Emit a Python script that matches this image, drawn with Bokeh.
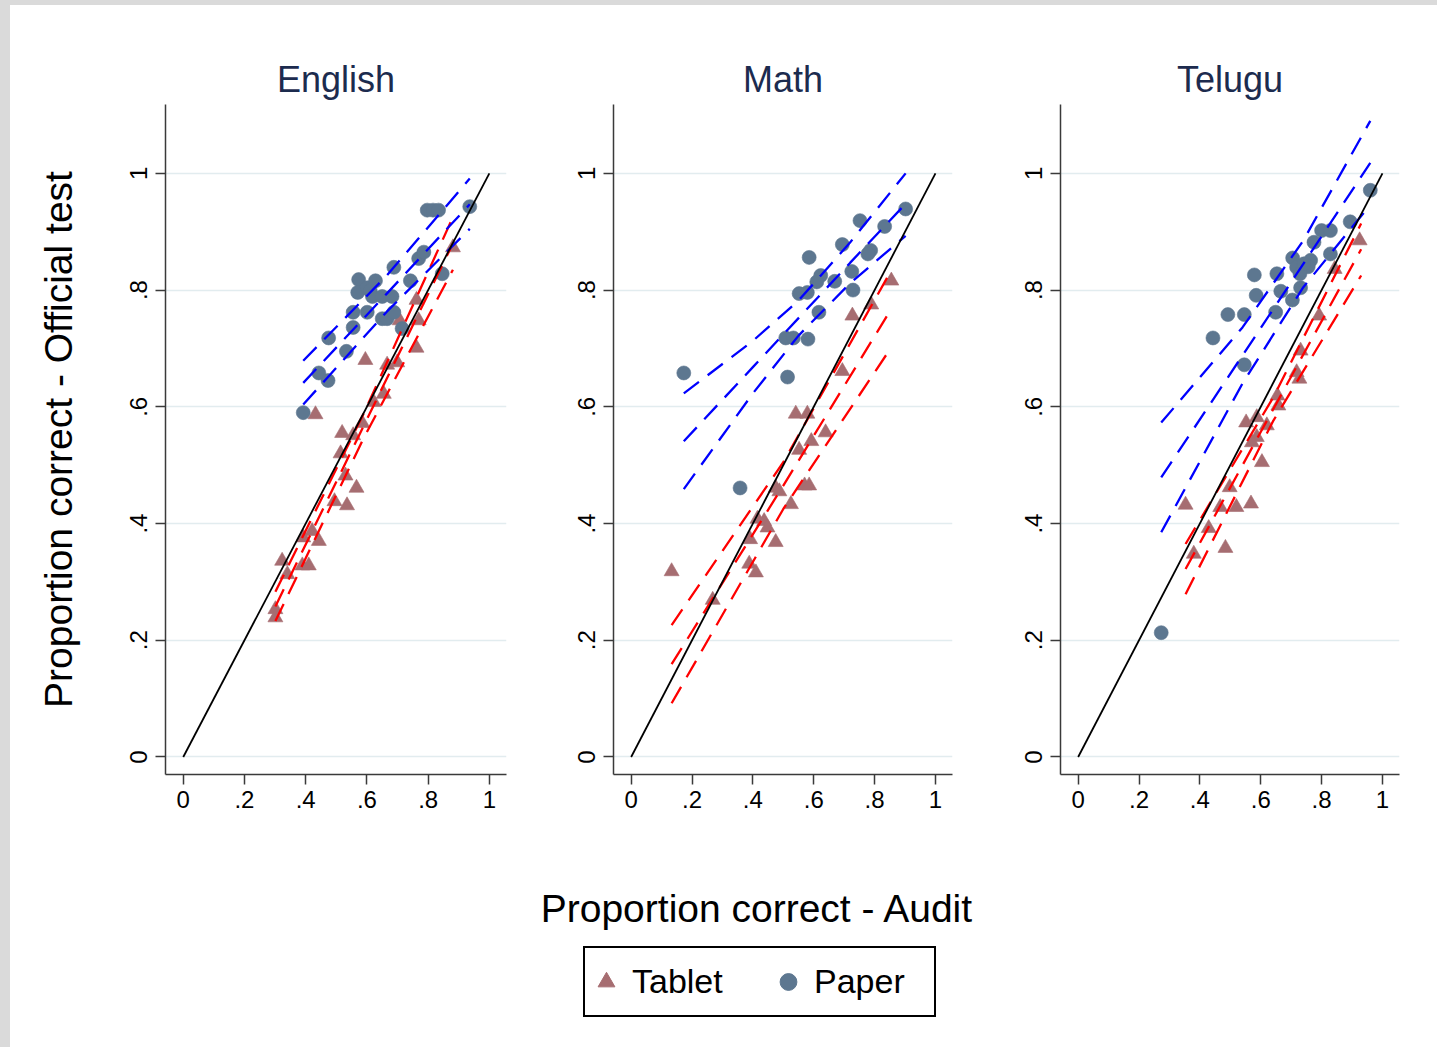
from bokeh.plotting import figure
from bokeh.models import (FixedTicker, Legend, LegendItem, Label, Range1d, Spacer)
from bokeh.layouts import row, column
from bokeh.embed import file_html
from bokeh.resources import INLINE

FONT = "Liberation Sans"
TAB_COLOR = "#a66d71"
PAP_COLOR = "#5d7790"

TICKS = [0, 0.2, 0.4, 0.6, 0.8, 1]
TICK_LABELS = ["0", ".2", ".4", ".6", ".8", "1"]
PANELS = ["English", "Math", "Telugu"]
SERIES = ["Tablet", "Paper"]

# ---------------- English ----------------
eng_tab_x = [.881, .762, .707, .769, .762, .595, .666, .699, .655, .622, .432, .519, .555, .514,
             .530, .566, .494, .535, .585, .392, .421, .443, .323, .340, .389, .410, .301, .301]
eng_tab_y = [.873, .783, .748, .748, .701, .680, .672, .676, .622, .608, .587, .555, .551, .520,
             .482, .461, .438, .431, .572, .376, .387, .370, .336, .313, .328, .328, .253, .239]
eng_pap_x = [.392, .443, .473, .475, .533, .555, .555, .601, .573, .570, .601, .611, .628, .618,
             .650, .666, .688, .650, .682, .715, .688, .742, .769, .786, .797, .816, .834, .846, .936]
eng_pap_y = [.590, .658, .645, .718, .695, .736, .762, .762, .818, .796, .804, .799, .816, .789,
             .751, .751, .762, .789, .789, .734, .839, .816, .854, .865, .937, .937, .937, .828, .943]
eng_tab_line_x = [.301, .59, .881]
eng_tab_hi = [.283, .589, .925]
eng_tab_fit = [.258, .568, .880]
eng_tab_lo = [.233, .547, .835]
eng_pap_line_x = [.392, .665, .936]
eng_pap_hi = [.679, .825, .991]
eng_pap_fit = [.641, .794, .947]
eng_pap_lo = [.604, .763, .905]

# ---------------- Math ----------------
math_tab_x = [.855, .789, .727, .694, .541, .579, .639, .592, .552, .570, .585, .475, .487, .525,
              .415, .437, .448, .475, .391, .388, .410, .133, .268]
math_tab_y = [.816, .775, .756, .661, .588, .588, .556, .541, .526, .465, .465, .461, .455, .433,
              .408, .404, .393, .368, .373, .331, .316, .318, .269]
math_pap_x = [.902, .752, .833, .694, .787, .778, .585, .623, .610, .669, .725, .729, .552, .579,
              .617, .508, .533, .581, .173, .514, .358]
math_pap_y = [.939, .919, .909, .878, .868, .862, .856, .825, .814, .815, .832, .800, .794, .796,
              .762, .718, .718, .716, .658, .651, .461]
math_tab_line_x = [.133, .50, .855]
math_tab_hi = [.226, .505, .834]
math_tab_fit = [.159, .465, .768]
math_tab_lo = [.092, .425, .702]
math_pap_line_x = [.173, .40, .55, .72, .902]
math_pap_hi = [.623, .713, .782, .882, 1.0]
math_pap_fit = [.541, .668, .752, .847, .948]
math_pap_lo = [.459, .623, .722, .812, .893]

# ---------------- Telugu ----------------
tel_tab_x = [.925, .843, .792, .731, .718, .727, .655, .658, .620, .587, .552, .587, .571, .604,
             .498, .467, .520, .568, .353, .429, .380, .484]
tel_tab_y = [.885, .836, .756, .696, .659, .648, .619, .602, .568, .582, .573, .548, .539, .505,
             .462, .428, .428, .434, .432, .392, .348, .358]
tel_pap_x = [.960, .894, .800, .829, .775, .829, .705, .764, .756, .718, .729, .653, .579, .731,
             .666, .585, .704, .649, .492, .546, .443, .546, .273, .742]
tel_pap_y = [.971, .917, .902, .902, .882, .862, .855, .851, .840, .839, .828, .828, .826, .804,
             .798, .791, .783, .762, .758, .758, .718, .672, .213, .845]
tel_tab_line_x = [.353, .64, .930]
tel_tab_hi = [.365, .615, .914]
tel_tab_fit = [.322, .595, .870]
tel_tab_lo = [.279, .575, .825]
tel_pap_line_x = [.273, .54, .74, .960]
tel_pap_hi = [.573, .736, .885, 1.09]
tel_pap_fit = [.479, .688, .845, 1.018]
tel_pap_lo = [.385, .640, .805, .946]

diag_x = [0, 1]
diag_y = [0, 1]

PANEL_H = 845
DASH = "19 11"


def make_panel(title, width, left, right, tab, pap, tab_lines, pap_lines, ylabel=None):
    p = figure(width=width, height=PANEL_H, output_backend="svg", toolbar_location=None,
               x_range=Range1d(-0.058, 1.056), y_range=Range1d(-0.030, 1.118),
               min_border_left=left, min_border_right=right,
               min_border_top=99, min_border_bottom=76, title=title)
    p.title.text_font = FONT
    p.title.text_font_size = "36px"
    p.title.text_font_style = "normal"
    p.title.text_color = "#1c2b4e"
    p.title.align = "center"
    p.title.standoff = 9
    p.outline_line_color = None
    p.background_fill_color = "white"
    p.border_fill_color = "white"
    p.xgrid.visible = False
    p.ygrid.grid_line_color = "#e2ecef"
    p.ygrid.grid_line_width = 1.5
    for ax in (p.xaxis[0], p.yaxis[0]):
        ax.ticker = FixedTicker(ticks=TICKS)
        ax.major_label_overrides = dict(zip(TICKS, TICK_LABELS))
        ax.major_tick_out = 10
        ax.major_tick_in = 0
        ax.minor_tick_out = 0
        ax.minor_tick_in = 0
        ax.axis_line_color = "#3a3a3a"
        ax.axis_line_width = 1.5
        ax.major_tick_line_color = "#3a3a3a"
        ax.major_tick_line_width = 1.5
        ax.major_label_text_font = FONT
        ax.major_label_text_font_size = "24px"
        ax.major_label_text_color = "black"
        ax.major_label_standoff = 6
    p.yaxis.major_label_orientation = "vertical"
    p.yaxis.major_label_standoff = 8

    p.scatter(tab[0], tab[1], marker="triangle", size=15, fill_color=TAB_COLOR,
              line_color=TAB_COLOR, line_alpha=0.6)
    p.scatter(pap[0], pap[1], marker="circle", size=14, fill_color=PAP_COLOR,
              line_color=PAP_COLOR, line_alpha=0.6)
    for xs, ys_list, col in ((tab_lines[0], tab_lines[1:], "#ff0000"),
                             (pap_lines[0], pap_lines[1:], "#0000ff")):
        for ys in ys_list:
            p.line(xs, ys, line_color=col, line_width=2.3, line_dash=DASH)
    p.line(diag_x, diag_y, line_color="black", line_width=1.8)

    if ylabel:
        p.yaxis.axis_label = ylabel
        p.yaxis.axis_label_text_font = FONT
        p.yaxis.axis_label_text_font_size = "39px"
        p.yaxis.axis_label_text_font_style = "normal"
        p.yaxis.axis_label_text_color = "black"
        p.yaxis.axis_label_standoff = 48
    return p


f1 = make_panel(PANELS[0], 530, 155, 34, (eng_tab_x, eng_tab_y), (eng_pap_x, eng_pap_y),
                (eng_tab_line_x, eng_tab_hi, eng_tab_fit, eng_tab_lo),
                (eng_pap_line_x, eng_pap_hi, eng_pap_fit, eng_pap_lo),
                ylabel="Proportion correct - Official test")
f2 = make_panel(PANELS[1], 445, 73, 33, (math_tab_x, math_tab_y), (math_pap_x, math_pap_y),
                (math_tab_line_x, math_tab_hi, math_tab_fit, math_tab_lo),
                (math_pap_line_x, math_pap_hi, math_pap_fit, math_pap_lo))
f3 = make_panel(PANELS[2], 452, 75, 38, (tel_tab_x, tel_tab_y), (tel_pap_x, tel_pap_y),
                (tel_tab_line_x, tel_tab_hi, tel_tab_fit, tel_tab_lo),
                (tel_pap_line_x, tel_pap_hi, tel_pap_fit, tel_pap_lo))

# bottom area: x-axis title and legend
BW, BH = 1427, 197
bf = figure(width=BW, height=BH, output_backend="svg", toolbar_location=None,
            x_range=Range1d(0, 1), y_range=Range1d(0, 1), min_border=0,
            x_axis_location=None, y_axis_location=None)
bf.outline_line_color = None
bf.xgrid.visible = False
bf.ygrid.visible = False
bf.add_layout(Label(x=747, y=139, x_units="screen", y_units="screen",
                    text="Proportion correct - Audit", text_align="center",
                    text_baseline="middle", text_font=FONT, text_font_size="39px",
                    text_color="black"))
# legend-only renderers, placed outside the visible range
r_tab = bf.scatter([-5], [-5], marker="triangle", fill_color=TAB_COLOR, line_color=TAB_COLOR)
r_pap = bf.scatter([-5], [-5], marker="circle", fill_color=PAP_COLOR, line_color=PAP_COLOR)
legend = Legend(items=[LegendItem(label=SERIES[0], renderers=[r_tab]),
                       LegendItem(label=SERIES[1], renderers=[r_pap])],
                location=(573, 30), orientation="horizontal",
                glyph_width=42, glyph_height=67, label_standoff=5, label_width=120,
                spacing=15, padding=0, margin=0,
                label_text_font=FONT, label_text_font_size="34px",
                label_text_color="black",
                border_line_color="black", border_line_width=2, border_line_alpha=1.0,
                background_fill_color="white", background_fill_alpha=1)
bf.add_layout(legend, "center")

GRAY = "#dadada"
top_strip = Spacer(width=1437, height=5, styles={"background-color": GRAY})
left_strip = Spacer(width=10, height=1042, styles={"background-color": GRAY})

root = column(top_strip, row(left_strip, column(row(f1, f2, f3), bf)))

open("out.html", "w").write(file_html(root, INLINE))
